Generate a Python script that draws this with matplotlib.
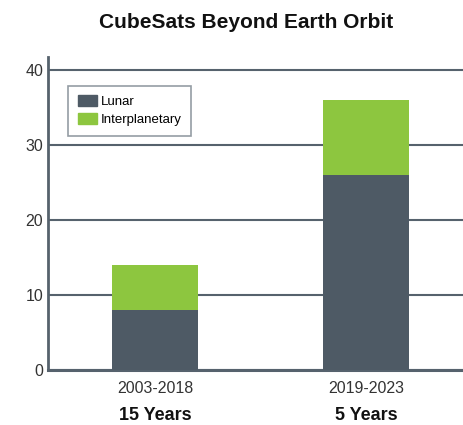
import matplotlib
matplotlib.use("Agg")
import matplotlib.pyplot as plt
from matplotlib.patches import Patch

plt.rcParams["font.family"] = ["Liberation Sans", "DejaVu Sans"]

periods = ["2003-2018", "2019-2023"]
spans = ["15 Years", "5 Years"]
lunar = [8, 26]
interplanetary = [6, 10]

DARK = "#4e5a65"
GREEN = "#8dc63f"
LINE = "#56626d"

fig = plt.figure(figsize=(4.64, 4.25), dpi=100)
ax = fig.add_axes([48 / 464, 55 / 425, 416 / 464, 313 / 425])

x = range(len(periods))
w = 0.41
ax.bar(x, lunar, w, color=DARK, zorder=3, label="Lunar")
ax.bar(x, interplanetary, w, bottom=lunar, color=GREEN, zorder=3, label="Interplanetary")

ax.set_xlim(-0.507, 1.464)
ax.set_ylim(0, 41.7)
ax.set_yticks([0, 10, 20, 30, 40])
ax.set_xticks(list(x))
ax.set_xticklabels(periods)
ax.tick_params(axis="both", length=0, labelsize=11.5, labelcolor="#333333")
ax.tick_params(axis="x", pad=8)
ax.grid(True, axis="y", color=LINE, lw=1.5, zorder=1)

for side in ("top", "right"):
    ax.spines[side].set_visible(False)
ax.spines["left"].set_color(LINE)
ax.spines["left"].set_linewidth(2)
ax.spines["bottom"].set_color(LINE)
ax.spines["bottom"].set_linewidth(2.2)

for i, s in enumerate(spans):
    ax.annotate(s, xy=(i, 0), xycoords=("data", "axes fraction"),
                xytext=(0, -33), textcoords="offset points",
                ha="center", va="center", fontsize=13, fontweight="bold", color="#111111")

handles = [Patch(color=DARK, label="Lunar"), Patch(color=GREEN, label="Interplanetary")]
leg = ax.legend(handles=handles, loc="upper left", bbox_to_anchor=(0.033, 0.93),
                fontsize=9.5, frameon=True, fancybox=False, handlelength=1.4,
                handleheight=0.9, handletextpad=0.3, labelspacing=0.35, borderpad=0.75)
leg.get_frame().set_edgecolor("#7a848d")
leg.get_frame().set_linewidth(1.2)
leg.set_zorder(5)

fig.text(0.53, 0.948, "CubeSats Beyond Earth Orbit", ha="center", va="center",
         fontsize=15, fontweight="bold", color="#111111")

fig.savefig("out.png", dpi=100)
